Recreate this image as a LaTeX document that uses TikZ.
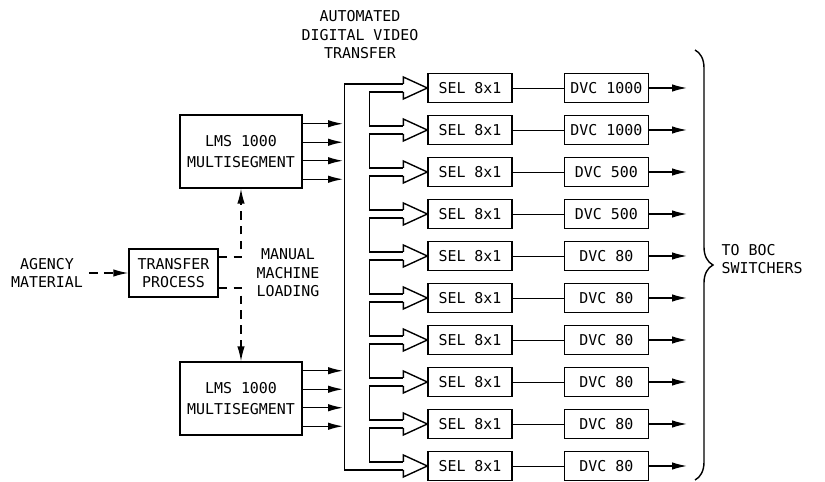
\documentclass[tikz,border=0pt]{standalone}
\usepackage{fontspec}
\newfontfamily\plotfont{DejaVu Sans Mono}
\usepackage{tikz}
\usetikzlibrary{positioning, arrows.meta, calc, decorations.pathreplacing}

\begin{document}
\begin{tikzpicture}[x=0.02cm, y=-0.02cm, line width=0.8pt,
			font=\plotfont\fontsize{8.5}{10.5}\selectfont,
			blk/.style={draw, minimum width=1.68cm, minimum height=0.58cm, inner sep=1pt},
			big/.style={draw, minimum width=2.44cm, minimum height=1.46cm, align=center, font=\plotfont\fontsize{8.5}{12}\selectfont},
			txt/.style={align=center, inner sep=0pt},
			arr/.style={-{Latex[length=3mm, width=1.5mm]}},
			dsh/.style={arr, dash pattern=on 5pt off 3.5pt}]
			\useasboundingbox (0,0) rectangle (825,482);
			\coordinate (outx) at (687,0);
			\coordinate (busL) at (343,0);
			% left side
			\node[txt] (agency) at (47,273) {AGENCY\\MATERIAL};
			\node[big, minimum width=1.78cm, minimum height=0.96cm, font=\plotfont\fontsize{8.5}{10.5}\selectfont] (xfer) at (173.5,273) {TRANSFER\\PROCESS};
			\node[big] (lmsA) at (241,151.5) {LMS 1000\\MULTISEGMENT};
			\node[big] (lmsB) at (241,398.5) {LMS 1000\\MULTISEGMENT};
			\node[txt] (manual) at (288,273) {MANUAL\\MACHINE\\LOADING};
			\node[txt] (auto) at (360,35) {AUTOMATED\\DIGITAL VIDEO\\TRANSFER};
			\draw[dsh, shorten <=3pt] (agency) -- (xfer);
			\draw[dsh] ($(xfer.east)+(0,-16)$) -| (lmsA.south);
			\draw[dsh] ($(xfer.east)+(0,15)$) -| (lmsB.north);
			\foreach \b in {lmsA,lmsB}
				\foreach \k in {-27.75,-9.25,9.25,27.75}
					\draw[arr] ($(\b.east)+(0,\k)$) coordinate (s) -- (s -| busL);
			% rows
			\foreach \i/\v in {1/1000,2/1000,3/500,4/500,5/80,6/80,7/80,8/80,9/80,10/80} {
				\node[blk] (sel\i) at (470,{88+42*(\i-1)}) {SEL 8x1};
				\node[blk, right=1.02cm of sel\i] (dvc\i) {DVC \v};
				\draw[line width=0.5pt] (sel\i) -- (dvc\i);
				\draw[arr] (dvc\i) -- (dvc\i -| outx);
				\draw ($(sel\i.west)+(-24,-4)$) -- ++(0,-7) -- (sel\i.west) -- ($(sel\i.west)+(-24,11)$) -- ++(0,-7);
			}
			% bus
			\draw ($(sel1.west)+(-24,-4)$) -- ($(sel1.west)+(-83,-4)$) |- ($(sel10.west)+(-24,4)$);
			\foreach \i [evaluate=\i as \j using int(\i+1)] in {1,...,9}
				\draw ($(sel\i.west)+(-24,4)$) -- ($(sel\i.west)+(-58,4)$) |- ($(sel\j.west)+(-24,-4)$);
			% brace
			\coordinate (bt) at (695,50);
			\coordinate (bb) at (695,480);
			\draw[decorate, decoration={brace, amplitude=0.36cm}] (bt) -- (bb);
			\node[txt, anchor=west, align=left] (boc) at (721,259) {TO BOC\\SWITCHERS};
		\end{tikzpicture}
\end{document}
